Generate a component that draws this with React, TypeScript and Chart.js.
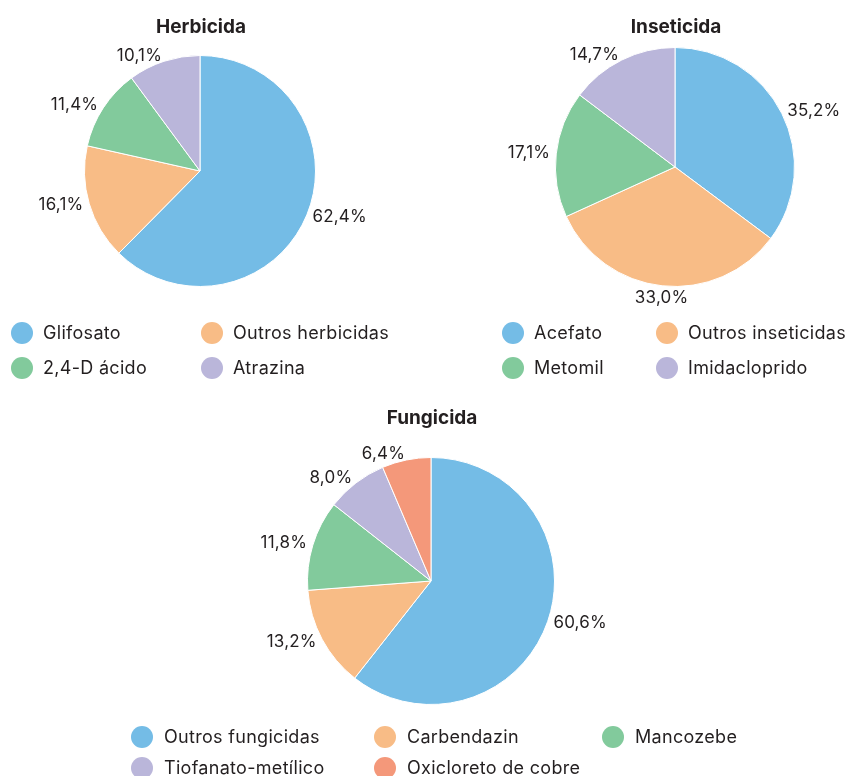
import React, { useEffect, useRef } from 'react';
import { Chart, registerables } from 'chart.js';

Chart.register(...registerables);

const herbLabels = ['Glifosato', 'Outros herbicidas', '2,4-D ácido', 'Atrazina'];
const herbValues = [62.4, 16.1, 11.4, 10.1];

const inseLabels = ['Acefato', 'Outros inseticidas', 'Metomil', 'Imidacloprido'];
const inseValues = [35.2, 33.0, 17.1, 14.7];

const fungLabels = ['Outros fungicidas', 'Carbendazin', 'Mancozebe', 'Tiofanato-metílico', 'Oxicloreto de cobre'];
const fungValues = [60.6, 13.2, 11.8, 8.0, 6.4];

const palette = ['#74BCE6', '#F8BC86', '#82CA9C', '#BAB6DA', '#F4987A'];

const FONT = 'Inter, "Open Sans", sans-serif';
const TEXT = '#231F20';

const fmt = (v: number) => v.toFixed(1).replace('.', ',') + '%';

const decorPlugin = {
  id: 'pieDecor',
  afterDraw(chart: any, _args: any, opts: any) {
    const ctx = chart.ctx as CanvasRenderingContext2D;
    const meta = chart.getDatasetMeta(0);
    const data = chart.data.datasets[0].data as number[];
    const colors = chart.data.datasets[0].backgroundColor as string[];
    const labels = chart.data.labels as string[];
    ctx.save();
    // slice value labels
    ctx.font = `17px ${FONT}`;
    (ctx as any).letterSpacing = '0.2px';
    ctx.fillStyle = TEXT;
    ctx.textBaseline = 'middle';
    meta.data.forEach((arc: any, i: number) => {
      const p = arc.getProps(['x', 'y', 'startAngle', 'endAngle', 'outerRadius'], true);
      const mid = (p.startAngle + p.endAngle) / 2;
      const c = Math.cos(mid);
      const s = Math.sin(mid);
      const r = p.outerRadius + 6;
      const ax = p.x + c * r;
      const ay = p.y + s * r;
      const txt = fmt(data[i]);
      const h = 13;
      let dy = 0;
      if (c > 0.15) ctx.textAlign = 'left';
      else if (c < -0.15) ctx.textAlign = 'right';
      else {
        ctx.textAlign = 'center';
        dy = s * (h / 2);
      }
      ctx.fillText(txt, ax, ay + dy);
    });
    // title
    const ca = chart.chartArea;
    ctx.font = `bold 19px ${FONT}`;
    (ctx as any).letterSpacing = '0px';
    ctx.textAlign = 'center';
    ctx.fillText(opts.title, (ca.left + ca.right) / 2 + 1, opts.titleY);
    // legend
    ctx.font = `18px ${FONT}`;
    (ctx as any).letterSpacing = '0.3px';
    ctx.textAlign = 'left';
    const cols: number[] = opts.colsX;
    const rows: number[] = opts.rowsY;
    labels.forEach((lab, i) => {
      const col = i % cols.length;
      const row = Math.floor(i / cols.length);
      const x = cols[col];
      const y = rows[row];
      ctx.beginPath();
      ctx.arc(x, y, 11, 0, Math.PI * 2);
      ctx.fillStyle = colors[i];
      ctx.fill();
      ctx.fillStyle = TEXT;
      ctx.fillText(lab, x + opts.gap, y + 1);
    });
    ctx.restore();
  },
};

type PieProps = {
  labels: string[];
  values: number[];
  width: number;
  height: number;
  left: number;
  top: number;
  padding: { left: number; right: number; top: number; bottom: number };
  title: string;
  titleY: number;
  colsX: number[];
  rowsY: number[];
  gap: number;
};

function PieChart(props: PieProps) {
  const ref = useRef<HTMLCanvasElement | null>(null);
  useEffect(() => {
    if (!ref.current) return;
    const chart = new Chart(ref.current, {
      type: 'pie',
      data: {
        labels: props.labels,
        datasets: [
          {
            data: props.values,
            backgroundColor: palette.slice(0, props.values.length),
            borderColor: '#ffffff',
            borderWidth: 1,
          },
        ],
      },
      options: {
        responsive: false,
        animation: false,
        devicePixelRatio: 1,
        layout: { padding: props.padding },
        plugins: {
          legend: { display: false },
          tooltip: { enabled: false },
          pieDecor: {
            title: props.title,
            titleY: props.titleY,
            colsX: props.colsX,
            rowsY: props.rowsY,
            gap: props.gap,
          },
        } as any,
      },
      plugins: [decorPlugin],
    });
    return () => chart.destroy();
  }, []);
  return (
    <canvas
      ref={ref}
      width={props.width}
      height={props.height}
      style={{ position: 'absolute', left: props.left, top: props.top, width: props.width, height: props.height }}
    />
  );
}

export default function App() {
  return (
    <div style={{ position: 'absolute', left: 0, top: 0, width: 849, height: 776, background: '#ffffff', overflow: 'hidden' }}>
      <PieChart
        labels={herbLabels}
        values={herbValues}
        left={0}
        top={0}
        width={425}
        height={390}
        padding={{ left: 84, right: 109, top: 55, bottom: 103 }}
        title="Herbicida"
        titleY={27}
        colsX={[22, 212]}
        rowsY={[333, 368]}
        gap={21}
      />
      <PieChart
        labels={inseLabels}
        values={inseValues}
        left={425}
        top={0}
        width={424}
        height={390}
        padding={{ left: 130, right: 54, top: 47, bottom: 103 }}
        title="Inseticida"
        titleY={27}
        colsX={[88, 242]}
        rowsY={[333, 368]}
        gap={21}
      />
      <PieChart
        labels={fungLabels}
        values={fungValues}
        left={0}
        top={390}
        width={849}
        height={386}
        padding={{ left: 307, right: 294, top: 67, bottom: 71 }}
        title="Fungicida"
        titleY={28}
        colsX={[142, 385, 613]}
        rowsY={[347, 378]}
        gap={22}
      />
    </div>
  );
}
